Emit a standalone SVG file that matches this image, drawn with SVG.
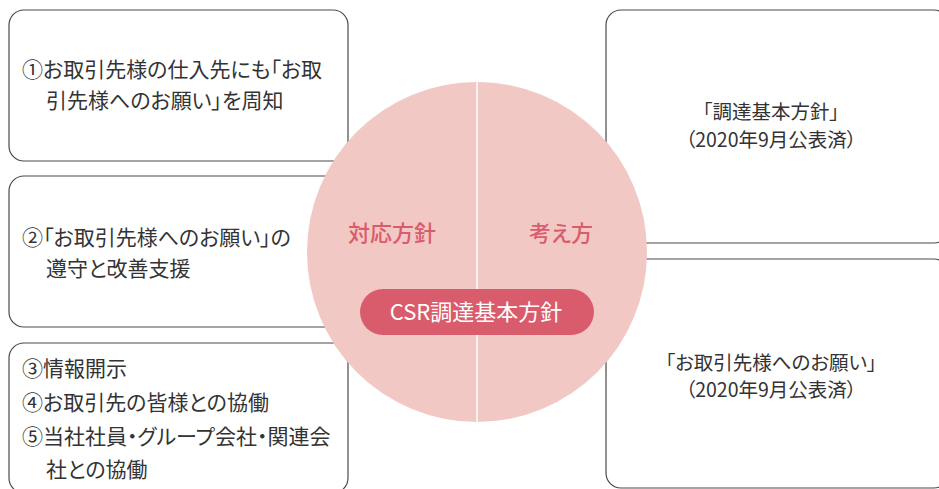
<svg xmlns="http://www.w3.org/2000/svg" width="939" height="489" viewBox="0 0 939 489">
<style>
.box{fill:#fff;stroke:#4a4a4a;stroke-width:1.2}
text{font-feature-settings:"palt" 1}
.t{font-family:"Noto Sans CJK JP","Noto Sans",sans-serif;font-size:21px;fill:#333}
.r{font-family:"Noto Sans CJK JP","Noto Sans",sans-serif;font-size:19.5px;fill:#333;text-anchor:middle}
.pk{font-family:"Noto Sans CJK JP","Noto Sans",sans-serif;font-size:22px;font-weight:500;fill:#d95c6c;text-anchor:middle}
.pill{font-family:"Noto Sans CJK JP","Noto Sans",sans-serif;font-size:22px;fill:#fff;text-anchor:middle}
</style>
<rect width="939" height="489" fill="#fff"/>
<g id="box1">
<rect class="box" x="9" y="10" width="339" height="151" rx="15"/>
<text class="t" x="22" y="77">①お取引先様の仕入先にも「お取</text>
<text class="t" x="46" y="108">引先様へのお願い」を周知</text>
</g>
<g id="box2">
<rect class="box" x="9" y="176" width="339" height="151" rx="15"/>
<text class="t" x="22" y="245">②「お取引先様へのお願い」の</text>
<text class="t" x="46" y="276">遵守と改善支援</text>
</g>
<g id="box3">
<rect class="box" x="9" y="343" width="339" height="150" rx="15"/>
<text class="t" x="22" y="376">③情報開示</text>
<text class="t" x="22" y="410">④お取引先の皆様との協働</text>
<text class="t" x="22" y="444">⑤当社社員・グループ会社・関連会</text>
<text class="t" x="46" y="477">社との協働</text>
</g>
<g id="box4">
<rect class="box" x="606" y="10" width="343" height="233" rx="15"/>
<text class="r" x="771" y="119">「調達基本方針」</text>
<text class="r" x="771" y="147">（2020年9月公表済）</text>
</g>
<g id="box5">
<rect class="box" x="606" y="259" width="343" height="229" rx="15"/>
<text class="r" x="771" y="370">「お取引先様へのお願い」</text>
<text class="r" x="771" y="397">（2020年9月公表済）</text>
</g>
<g id="center">
<circle cx="477" cy="252" r="170" fill="#f2c8c5"/>
<line x1="477" y1="82" x2="477" y2="422" stroke="#fff" stroke-width="1.5"/>
<text class="pk" x="392" y="241">対応方針</text>
<text class="pk" x="561" y="241">考え方</text>
</g>
<g id="core">
<rect x="360" y="289" width="234" height="46" rx="23" fill="#d95c6c"/>
<text class="pill" x="476" y="320">CSR調達基本方針</text>
</g>
<g id="connectors"></g>
</svg>
